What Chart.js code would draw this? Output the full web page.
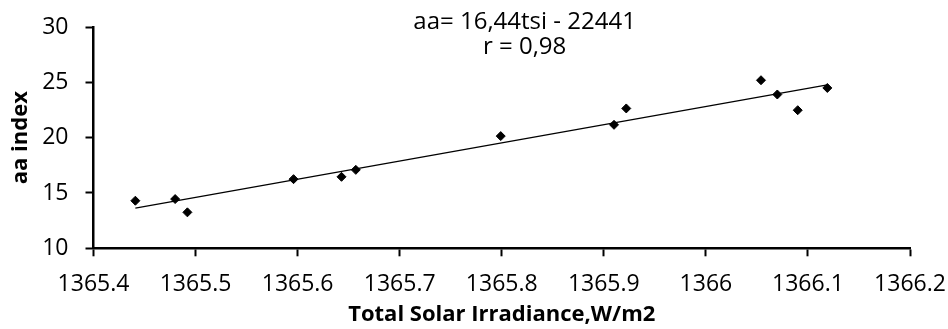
<!DOCTYPE html>
<html>
<head>
<meta charset="utf-8">
<script src="https://cdn.jsdelivr.net/npm/chart.js@4.4.1/dist/chart.umd.min.js"></script>
<style>
  html, body { margin: 0; padding: 0; background: #fff; }
  #wrap { width: 948px; height: 329px; }
</style>
</head>
<body>
<div id="wrap"><canvas id="myChart" width="948" height="329"></canvas></div>
<script>
// data
const tsi = [1365.441, 1365.480, 1365.492, 1365.596, 1365.643, 1365.657, 1365.799,
  1365.910, 1365.922, 1366.054, 1366.070, 1366.090, 1366.119];
const aa = [14.30, 14.45, 13.25, 16.25, 16.46, 17.09, 20.14,
  21.16, 22.64, 25.19, 23.90, 22.48, 24.49];
const xTicks = [1365.4, 1365.5, 1365.6, 1365.7, 1365.8, 1365.9, 1366, 1366.1, 1366.2];
const yTicks = [10, 15, 20, 25, 30];
const fitText = ['aa= 16,44tsi - 22441', 'r = 0,98'];

// least squares line through the points (as the spreadsheet trendline)
const n = tsi.length;
const mx = tsi.reduce((a, b) => a + b, 0) / n;
const my = aa.reduce((a, b) => a + b, 0) / n;
let sxy = 0, sxx = 0;
for (let i = 0; i < n; i++) {
  sxy += (tsi[i] - mx) * (aa[i] - my);
  sxx += (tsi[i] - mx) * (tsi[i] - mx);
}
const slope = sxy / sxx;
const x0 = Math.min(...tsi), x1 = Math.max(...tsi);
const trend = [x0, x1].map(x => ({ x: x, y: my + slope * (x - mx) }));

const FONT = 'Open Sans';

const fitLabel = {
  id: 'fitLabel',
  afterDraw(chart) {
    const c = chart.ctx;
    const area = chart.chartArea;
    c.save();
    c.fillStyle = '#000';
    c.font = '24px "' + FONT + '"';
    c.textAlign = 'center';
    c.textBaseline = 'middle';
    const cx = area.left + (area.right - area.left) * 0.528;
    c.fillText(fitText[0], cx, 22);
    c.fillText(fitText[1], cx, 47);
    c.restore();
  }
};

// keep the plot box fixed, labels may hang over its ends
function noEdgePad(s) {
  s.paddingLeft = 0; s.paddingRight = 0;
  s.paddingTop = 0; s.paddingBottom = 0;
}

const ctx = document.getElementById('myChart').getContext('2d');
const myChart = new Chart(ctx, {
  type: 'scatter',
  data: {
    datasets: [{
      label: 'aa',
      data: tsi.map((x, i) => ({ x: x, y: aa[i] })),
      pointStyle: 'rectRot',
      pointRadius: 4.5,
      backgroundColor: '#000',
      borderColor: '#000',
      borderWidth: 1
    }, {
      label: 'trend',
      type: 'line',
      data: trend,
      showLine: true,
      pointRadius: 0,
      borderColor: '#000',
      borderWidth: 1.2,
      fill: false
    }]
  },
  options: {
    responsive: false,
    animation: false,
    layout: { padding: { left: 0, top: 27, right: 38, bottom: 0 } },
    plugins: { legend: { display: false }, tooltip: { enabled: false } },
    scales: {
      x: {
        type: 'linear',
        min: 1365.4,
        max: 1366.2,
        afterBuildTicks: s => { s.ticks = xTicks.map(v => ({ value: v })); },
        afterFit: s => { s.height = 80.7; noEdgePad(s); },
        ticks: {
          color: '#000',
          font: { family: FONT, size: 23 },
          padding: 14,
          maxRotation: 0,
          callback: v => String(Number(v.toFixed(1)))
        },
        grid: { drawOnChartArea: false, drawTicks: true, tickLength: 8, tickColor: '#000', tickWidth: 2 },
        border: { display: true, color: '#000', width: 2.5 },
        title: {
          display: true,
          text: 'Total Solar Irradiance,W/m2',
          color: '#000',
          font: { family: FONT, size: 22, weight: 'bold' },
          padding: { top: 0, bottom: 1 }
        }
      },
      y: {
        min: 10,
        max: 30,
        afterBuildTicks: s => { s.ticks = yTicks.map(v => ({ value: v })); },
        afterFit: s => { s.width = 93.5; noEdgePad(s); },
        ticks: { color: '#000', font: { family: FONT, size: 23 }, padding: 17 },
        grid: { drawOnChartArea: false, drawTicks: true, tickLength: 8, tickColor: '#000', tickWidth: 2 },
        border: { display: true, color: '#000', width: 2.5 },
        title: {
          display: true,
          text: 'aa index',
          color: '#000',
          font: { family: FONT, size: 22, weight: 'bold' },
          padding: { top: 8, bottom: 0 }
        }
      }
    }
  },
  plugins: [fitLabel]
});
</script>
</body>
</html>
